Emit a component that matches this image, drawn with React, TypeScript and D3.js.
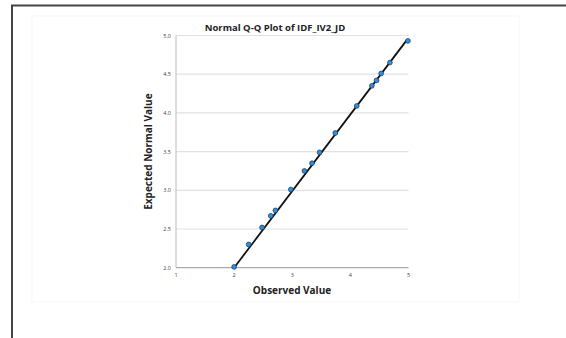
import React from 'react'
import * as d3 from 'd3'

// observed value vs expected normal value
const observed = [2.0, 2.25, 2.48, 2.63, 2.71, 2.975, 3.21, 3.34, 3.47, 3.74, 4.11, 4.37, 4.45, 4.53, 4.68, 4.99]
const expected = [2.01, 2.3, 2.52, 2.67, 2.74, 3.01, 3.25, 3.35, 3.49, 3.74, 4.09, 4.35, 4.42, 4.51, 4.65, 4.93]
const refLine: [number, number][] = [[2.0, 2.0], [4.97, 4.94]]
const xTicks = [1, 2, 3, 4, 5]
const yTicks = [2.0, 2.5, 3.0, 3.5, 4.0, 4.5, 5.0]

const font = "'Open Sans', 'DejaVu Sans', sans-serif"

export default function App() {
  const width = 566
  const height = 338

  const x = d3.scaleLinear().domain([1, 5]).range([176, 408.5])
  const y = d3.scaleLinear().domain([2, 5]).range([267.7, 35.5])
  const line = d3.line<[number, number]>().x(d => x(d[0])).y(d => y(d[1]))

  return (
    <svg width={width} height={height} style={{ position: 'absolute', left: 0, top: 0, display: 'block', background: '#fff' }}>
      {/* outer frame */}
      <path d={`M12,${height} L12,5.5 L${width},5.5`} fill="none" stroke="#444" strokeWidth={2} />
      <rect x={32} y={16} width={487} height={286} fill="none" stroke="#f8f8f8" strokeWidth={1} />

      <text x={275} y={31} textAnchor="middle" fontFamily={font} fontWeight="bold" fontSize={9.5} fill="#222">
        Normal Q-Q Plot of IDF_IV2_JD
      </text>

      {yTicks.map(t => (
        <g key={t}>
          {t > 2 && <line x1={x(1)} x2={x(5)} y1={y(t)} y2={y(t)} stroke="#e2e2e2" strokeWidth={1.2} />}
          <text x={x(1) - 5} y={y(t) + 2} textAnchor="end" fontFamily={font} fontSize={5.5} fill="#444">
            {t.toFixed(1)}
          </text>
        </g>
      ))}
      <line x1={x(1)} x2={x(1)} y1={y(5)} y2={y(2)} stroke="#bbb" strokeWidth={1} />
      <line x1={x(1)} x2={x(5)} y1={y(2)} y2={y(2)} stroke="#aaa" strokeWidth={1.2} />
      {xTicks.map(t => (
        <text key={t} x={x(t)} y={276.5} textAnchor="middle" fontFamily={font} fontSize={5.5} fill="#444">
          {t}
        </text>
      ))}

      <text x={292} y={294} textAnchor="middle" fontFamily={font} fontWeight="bold" fontSize={10} fill="#222">
        Observed Value
      </text>
      <text transform={`translate(152,${(y(2) + y(5)) / 2}) rotate(-90)`} textAnchor="middle" fontFamily={font} fontWeight="bold" fontSize={10} fill="#222">
        Expected Normal Value
      </text>

      <path d={line(refLine) || ''} fill="none" stroke="#111" strokeWidth={1.8} />
      {observed.map((o, i) => (
        <circle key={i} cx={x(o)} cy={y(expected[i])} r={2.4} fill="#2f8fdc" stroke="#1a3550" strokeWidth={0.7} />
      ))}
    </svg>
  )
}
